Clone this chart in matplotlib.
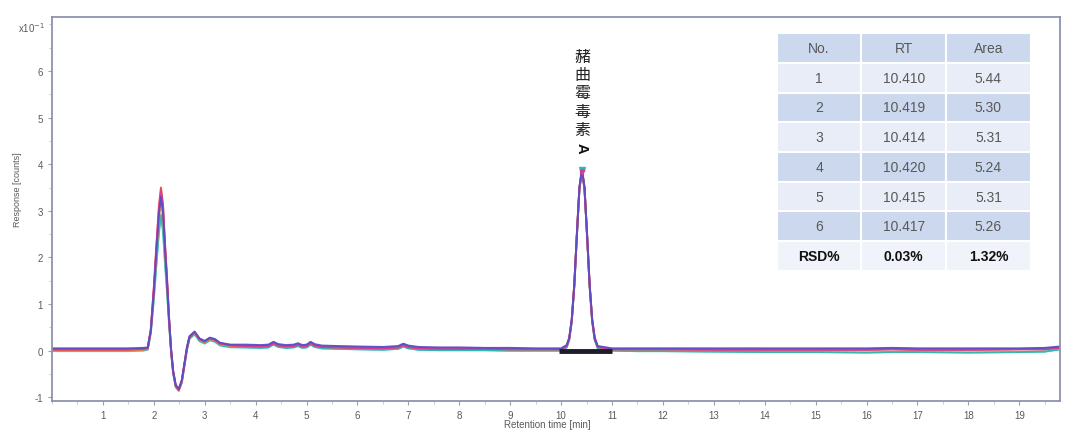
import matplotlib
matplotlib.use('Agg')
from matplotlib import pyplot as plt
from matplotlib.ticker import MultipleLocator

plt.rcParams['font.family'] = ['Liberation Sans', 'Noto Sans CJK SC', 'DejaVu Sans']
plt.rcParams['axes.unicode_minus'] = False

# Retention time points (min), shared by all six injections
time_min = [0.0, 0.5, 1.0, 1.5, 1.8, 1.88, 1.94, 2.0, 2.05, 2.1,
            2.14, 2.18, 2.22, 2.26, 2.3, 2.34, 2.38, 2.43, 2.49, 2.55,
            2.6, 2.65, 2.7, 2.8, 2.9, 3.0, 3.1, 3.2, 3.3, 3.5,
            3.8, 4.1, 4.25, 4.35, 4.45, 4.6, 4.75, 4.83, 4.92, 5.0,
            5.08, 5.16, 5.3, 5.6, 6.0, 6.5, 6.8, 6.9, 7.0, 7.2,
            7.6, 8.0, 8.5, 9.0, 9.5, 10.0, 10.11, 10.16, 10.21, 10.26,
            10.31, 10.36, 10.41, 10.46, 10.51, 10.56, 10.61, 10.66, 10.72, 11.0,
            11.5, 12.0, 13.0, 14.0, 15.0, 16.0, 16.5, 17.0, 18.0, 19.0,
            19.5, 19.8]

# Early part of each trace (0 - 3.5 min), response x10^-1 counts
head_red = [0.02, 0.02, 0.02, 0.02, 0.03, 0.05, 0.45, 1.35, 2.25, 3.10,
            3.50, 3.15, 2.30, 1.55, 0.70, 0.00, -0.45, -0.75, -0.84, -0.65,
            -0.30, 0.05, 0.28, 0.39, 0.24, 0.19, 0.26, 0.23, 0.15, 0.11]
head_magenta = [0.03, 0.03, 0.03, 0.03, 0.04, 0.06, 0.44, 1.32, 2.20, 3.03,
                3.42, 3.08, 2.25, 1.51, 0.68, 0.00, -0.45, -0.75, -0.84, -0.65,
                -0.30, 0.05, 0.29, 0.40, 0.25, 0.20, 0.27, 0.23, 0.16, 0.12]
head_purple = [0.05, 0.05, 0.05, 0.05, 0.06, 0.07, 0.42, 1.27, 2.12, 2.92,
               3.30, 2.97, 2.17, 1.46, 0.66, 0.02, -0.43, -0.73, -0.82, -0.63,
               -0.28, 0.07, 0.31, 0.41, 0.26, 0.21, 0.28, 0.25, 0.17, 0.13]
head_orange = [0.01, 0.01, 0.01, 0.01, 0.02, 0.04, 0.41, 1.23, 2.05, 2.82,
               3.18, 2.86, 2.09, 1.41, 0.64, -0.01, -0.46, -0.76, -0.85, -0.66,
               -0.31, 0.04, 0.28, 0.38, 0.23, 0.18, 0.25, 0.22, 0.14, 0.10]
head_teal = [0.00, 0.00, 0.00, 0.00, 0.01, 0.03, 0.38, 1.13, 1.88, 2.59,
             2.92, 2.63, 1.92, 1.29, 0.58, -0.03, -0.48, -0.78, -0.86, -0.68,
             -0.33, 0.02, 0.26, 0.36, 0.21, 0.16, 0.23, 0.20, 0.12, 0.08]
head_cyan = [-0.01, -0.01, -0.01, -0.01, 0.00, 0.02, 0.37, 1.10, 1.83, 2.52,
             2.85, 2.56, 1.87, 1.26, 0.57, -0.04, -0.49, -0.78, -0.86, -0.69,
             -0.34, 0.01, 0.25, 0.35, 0.20, 0.15, 0.22, 0.19, 0.11, 0.07]

# Rest of the traces (3.8 - 19.8 min), incl. the ochratoxin A peak
tail_high = [0.13, 0.12, 0.13, 0.19, 0.14, 0.12, 0.13, 0.16, 0.12, 0.13,
             0.19, 0.14, 0.11, 0.10, 0.09, 0.08, 0.10, 0.15, 0.11, 0.08,
             0.07, 0.07, 0.06, 0.06, 0.05, 0.05, 0.12, 0.28, 0.68, 1.44,
             2.51, 3.51, 3.90, 3.51, 2.51, 1.44, 0.68, 0.28, 0.10, 0.05,
             0.05, 0.05, 0.05, 0.05, 0.05, 0.05, 0.06, 0.05, 0.05, 0.05,
             0.06, 0.09]
tail_mid = [0.10, 0.09, 0.10, 0.16, 0.11, 0.09, 0.10, 0.13, 0.09, 0.10,
            0.16, 0.11, 0.08, 0.07, 0.06, 0.05, 0.07, 0.12, 0.08, 0.05,
            0.04, 0.04, 0.04, 0.03, 0.03, 0.03, 0.10, 0.26, 0.66, 1.42,
            2.49, 3.49, 3.88, 3.49, 2.49, 1.42, 0.66, 0.26, 0.08, 0.03,
            0.03, 0.03, 0.02, 0.02, 0.02, 0.02, 0.03, 0.02, 0.02, 0.03,
            0.03, 0.07]
tail_low = [0.07, 0.06, 0.07, 0.13, 0.08, 0.06, 0.07, 0.10, 0.06, 0.07,
            0.13, 0.08, 0.05, 0.04, 0.03, 0.02, 0.04, 0.09, 0.05, 0.02,
            0.01, 0.01, 0.01, 0.00, 0.00, 0.00, 0.07, 0.23, 0.63, 1.39,
            2.46, 3.46, 3.85, 3.46, 2.46, 1.39, 0.63, 0.23, 0.05, 0.00,
            -0.01, -0.01, -0.02, -0.03, -0.03, -0.04, -0.03, -0.03, -0.04, -0.03,
            -0.02, 0.03]

traces = [
    (head_cyan + tail_low, '#5fd3d8'),
    (head_teal + tail_low, '#2fb8ad'),
    (head_orange + tail_mid, '#f0a03a'),
    (head_red + tail_mid, '#e8473f'),
    (head_magenta + tail_mid, '#d63c9c'),
    (head_purple + tail_high, '#5a4cc6'),
]

# integration baseline under the OTA peak
int_start, int_end = 9.95, 11.0
apex_time, apex_resp = 10.41, 3.88

# summary table
table_header = ['No.', 'RT', 'Area']
table_rows = [['1', '10.410', '5.44'],
              ['2', '10.419', '5.30'],
              ['3', '10.414', '5.31'],
              ['4', '10.420', '5.24'],
              ['5', '10.415', '5.31'],
              ['6', '10.417', '5.26'],
              ['RSD%', '0.03%', '1.32%']]

fig = plt.figure(figsize=(10.8, 4.39), dpi=100)
ax = fig.add_axes([52 / 1080, 37 / 439, 1008 / 1080, 384 / 439])

for resp, col in traces:
    ax.plot(time_min, resp, color=col, lw=1.4, alpha=0.95)

# black baseline segment + apex markers
ax.plot([int_start, int_end], [0, 0], color='#1c1c2a', lw=3.5, solid_capstyle='butt')
ax.plot([apex_time], [apex_resp], marker='v', color='#2fb8ad', ms=5, ls='none')
ax.plot([apex_time], [apex_resp - 0.05], marker='v', color='#d63c9c', ms=3.5, ls='none')

# vertical compound name over the peak
name_chars = ['赭', '曲', '霉', '毒', '素']
y_txt = 6.32
for ch in name_chars:
    ax.text(apex_time, y_txt, ch, ha='center', va='center', fontsize=11.5,
            family=['Noto Sans CJK SC'], color='#222222')
    y_txt -= 0.395
ax.text(apex_time, y_txt + 0.02, 'A', ha='center', va='center', fontsize=10.5,
        rotation=-90, color='#111111', fontweight='bold')

ax.set_xlim(0, 19.8)
ax.set_ylim(-1.08, 7.16)
ax.xaxis.set_major_locator(MultipleLocator(1))
ax.xaxis.set_minor_locator(MultipleLocator(0.5))
ax.yaxis.set_major_locator(MultipleLocator(1))
ax.yaxis.set_minor_locator(MultipleLocator(0.5))
ax.set_xticks(range(1, 20))
ax.set_yticks(range(-1, 7))
ax.tick_params(axis='both', which='major', labelsize=7, colors='#9aa0b2',
               labelcolor='#5a5a5a', length=3, width=0.8)
ax.tick_params(axis='both', which='minor', colors='#c0c4d0', length=2, width=0.6)
for sp in ax.spines.values():
    sp.set_color('#8d93ab')
    sp.set_linewidth(1.3)

ax.text(-0.007, 0.974, 'x10$^{-1}$', transform=ax.transAxes, ha='right',
        va='center', fontsize=7, color='#5a5a5a')
fig.text(18 / 1080, 1 - 190 / 439, 'Response [counts]', rotation=90,
         ha='center', va='center', fontsize=6.5, color='#5a5a5a')
fig.text(547 / 1080, 1 - 425 / 439, 'Retention time [min]', ha='center',
         va='center', fontsize=7, color='#5a5a5a')

# table
tbl = ax.table(cellText=table_rows, colLabels=table_header, cellLoc='center',
               bbox=[0.719, 0.339, 0.252, 0.619])
tbl.auto_set_font_size(False)
tbl.set_fontsize(10)
for (r, c), cell in tbl.get_celld().items():
    cell.set_edgecolor('white')
    cell.set_linewidth(1.5)
    if r == 0 or r % 2 == 0:
        cell.set_facecolor('#cbd8ee')
    else:
        cell.set_facecolor('#e8edf7')
    cell.get_text().set_color('#595959')
    if r == len(table_rows):
        cell.set_facecolor('#f0f3fa')
        cell.get_text().set_color('#111111')
        cell.get_text().set_fontweight('bold')

fig.savefig('out.png', dpi=100)
